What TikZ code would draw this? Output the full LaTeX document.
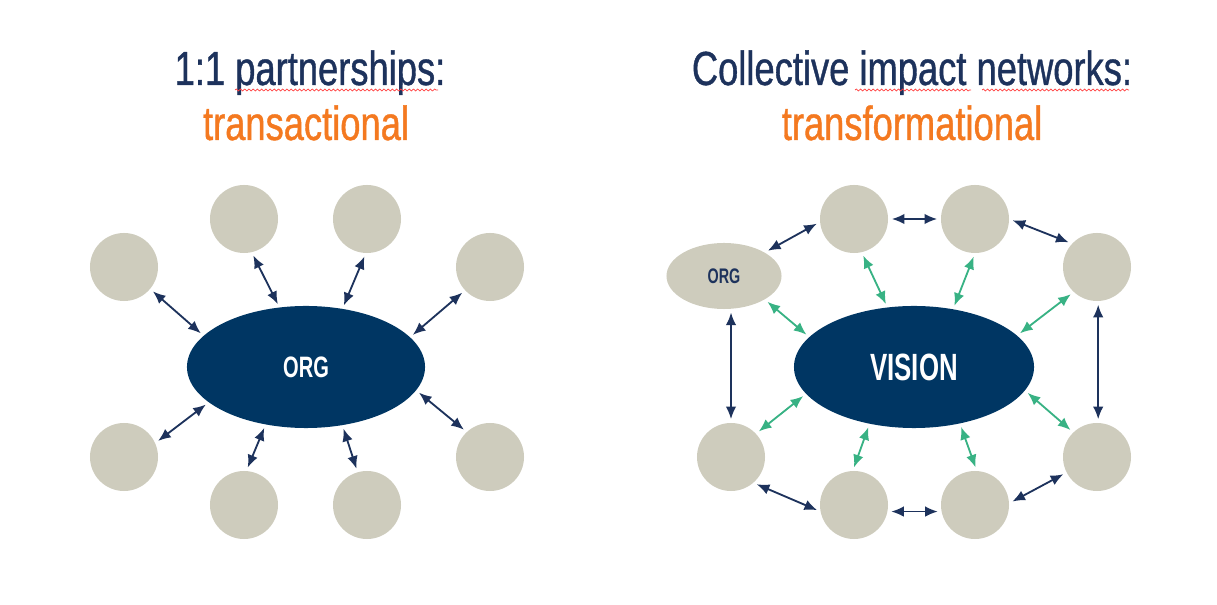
\documentclass[tikz,border=0pt]{standalone}
\usepackage{fontspec}
\setmainfont{Liberation Sans}
\newfontfamily\narrowfont[FakeStretch=0.76,FakeBold=0.8]{Liberation Sans}
\newfontfamily\labelfont[FakeStretch=0.68]{Liberation Sans}
\usepackage{xcolor}
\usetikzlibrary{shapes,arrows,arrows.meta}
\usetikzlibrary{calc,positioning,decorations.pathmorphing}
\definecolor{navy}{RGB}{29,50,92}
\definecolor{hubblue}{RGB}{0,54,99}
\definecolor{stone}{RGB}{206,204,189}
\definecolor{tangerine}{RGB}{244,121,32}
\definecolor{mint}{RGB}{56,178,132}
\tikzset{
        partner/.style = {circle, fill=stone,
            minimum size=1.7cm, inner sep=0pt},
        hub/.style = {ellipse, fill=hubblue, text=white, inner sep=0pt,
            minimum width=5.95cm, minimum height=3.05cm,
            font=\labelfont\bfseries\fontsize{21}{24}\selectfont},
        smallorg/.style = {ellipse, fill=stone, text=navy, inner sep=0pt,
            minimum width=2.875cm, minimum height=1.65cm,
            font=\labelfont\bfseries\fontsize{15}{18}\selectfont},
        heading/.style = {anchor=base, inner sep=0pt,
            font=\narrowfont\fontsize{34}{40}\selectfont},
        link/.style = {draw=navy, {Latex[length=9pt,width=7.5pt]}-{Latex[length=9pt,width=7.5pt]},
            line width=1.3pt, shorten <=2.5pt, shorten >=2.5pt},
        glink/.style = {link, draw=mint},
        spell/.style = {draw=red!75, line width=0.5pt, decorate,
            decoration={snake, amplitude=0.7pt, segment length=3pt}},
    }

\begin{document}
\begin{tikzpicture}[x=0.025cm, y=0.025cm]
                    \useasboundingbox (0,0) rectangle (1217,605);

                    % 1:1 partnerships
                    \node[heading, text=navy] (head1) at (310,520) {1:1 partnerships:};
                    \node[heading, text=tangerine] (sub1) at (306,465) {transactional};
                    \draw[spell] (235,515) -- (438,515);

                    \node[hub] (lorg) at (306,238) {ORG};
                    \node[partner] (l1) at ($(lorg) + (-182,100)$) {};
                    \node[partner] (l2) at ($(lorg) + (-62,148)$) {};
                    \node[partner] (l3) at ($(lorg) + (61,148)$) {};
                    \node[partner] (l4) at ($(lorg) + (184,100)$) {};
                    \node[partner] (l5) at ($(lorg) + (184,-90)$) {};
                    \node[partner] (l6) at ($(lorg) + (61,-138)$) {};
                    \node[partner] (l7) at ($(lorg) + (-62,-138)$) {};
                    \node[partner] (l8) at ($(lorg) + (-182,-90)$) {};

                    \draw[link] (l1.-40) -- (lorg.163);
                    \draw[link] (l2.-77) -- (lorg.114);
                    \draw[link] (l3.-92) -- (lorg.58);
                    \draw[link] (l4.-137) -- (lorg.16);
                    \draw[link] (l5.133) -- (lorg.-12);
                    \draw[link] (l6.106) -- (lorg.-58);
                    \draw[link] (l7.86) -- (lorg.-125);
                    \draw[link] (l8.24) -- (lorg.-160);

                    % collective impact networks
                    \node[heading, text=navy] (head2) at (912,520) {Collective impact networks:};
                    \node[heading, text=tangerine] (sub2) at (912,465) {transformational};
                    \draw[spell] (855,515) -- (971,515);
                    \draw[spell] (982,515) -- (1129,515);

                    \node[hub, minimum width=6cm,
                          font=\labelfont\bfseries\fontsize{27}{32}\selectfont] (vision) at (914,238) {VISION};
                    \node[smallorg] (rorg) at ($(vision) + (-190,91)$) {ORG};
                    \node[partner] (r1) at ($(vision) + (-60,148)$) {};
                    \node[partner] (r2) at ($(vision) + (61,148)$) {};
                    \node[partner] (r3) at ($(vision) + (183,100)$) {};
                    \node[partner] (r4) at ($(vision) + (183,-90)$) {};
                    \node[partner] (r5) at ($(vision) + (61,-138)$) {};
                    \node[partner] (r6) at ($(vision) + (-60,-138)$) {};
                    \node[partner] (r7) at ($(vision) + (-183,-90)$) {};

                    % outer ring
                    \draw[link] (rorg.30) -- (r1.-175);
                    \draw[link] (r1.0) -- (r2.180);
                    \draw[link] (r2.0) -- (r3.137);
                    \draw[link] (r3.-88) -- (r4.88);
                    \draw[link] (r4.-153) -- (r5.3);
                    \draw[link] (r5.-169) -- (r6.-11);
                    \draw[link] (r6.-169) -- (r7.-49);
                    \draw[link] (r7.90) -- (rorg.-78);

                    % spokes to the vision
                    \draw[glink] (rorg.-30) -- (vision.164);
                    \draw[glink] (r1.-77) -- (vision.114);
                    \draw[glink] (r2.-90) -- (vision.56);
                    \draw[glink] (r3.-133) -- (vision.17);
                    \draw[glink] (r4.134) -- (vision.-12);
                    \draw[glink] (r5.87) -- (vision.-51);
                    \draw[glink] (r6.92) -- (vision.-128);
                    \draw[glink] (r7.43) -- (vision.-166);
\end{tikzpicture}
\end{document}
